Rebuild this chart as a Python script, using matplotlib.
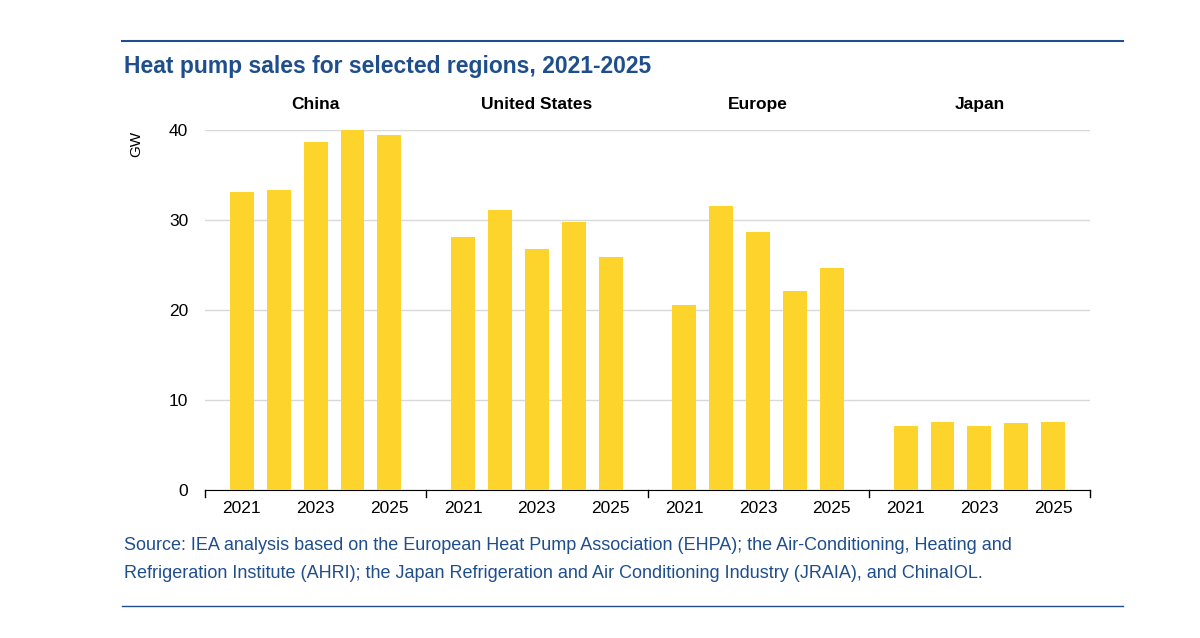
import matplotlib
matplotlib.use("Agg")
import matplotlib.pyplot as plt
from matplotlib.lines import Line2D

plt.rcParams['font.family'] = ['Liberation Sans', 'DejaVu Sans']

regions = ["China", "United States", "Europe", "Japan"]
years = [2021, 2022, 2023, 2024, 2025]
china = [33.1, 33.3, 38.7, 40.0, 39.4]
us = [28.1, 31.1, 26.8, 29.8, 25.9]
europe = [20.6, 31.6, 28.7, 22.1, 24.7]
japan = [7.1, 7.6, 7.1, 7.5, 7.6]
series = [china, us, europe, japan]
year_labels = ["2021", "", "2023", "", "2025"]

fig = plt.figure(figsize=(12, 6.38), dpi=100)
ax = fig.add_axes([205/1200, 1-490/638, 885/1200, 360/638])

xs, hs, labs = [], [], []
for g, vals in enumerate(series):
    for i, v in enumerate(vals):
        xs.append(g*6 + i + 1)
        hs.append(v)
        labs.append(year_labels[i])
ax.bar(xs, hs, width=0.65, color="#FDD42C", zorder=3)
ax.set_xlim(0, 24)
ax.set_ylim(0, 40)
ax.set_yticks([0, 10, 20, 30, 40])
ax.yaxis.grid(True, color="#d9d9d9", lw=1, zorder=0)
ax.set_xticks(xs)
ax.set_xticklabels(labs, fontsize=12.5)
ax.tick_params(axis='x', length=0, pad=8)
ax.tick_params(axis='y', length=0, labelsize=12.5, pad=12)
for s in ["top", "right", "left"]:
    ax.spines[s].set_visible(False)
ax.spines["bottom"].set_color("black")
for b in [0, 6, 12, 18, 24]:
    ax.plot([b, b], [0, -0.02], transform=ax.get_xaxis_transform(), color="black", lw=1, clip_on=False)
for g, r in enumerate(regions):
    ax.text(g*6 + 3, 42, r, ha="center", va="bottom", fontsize=12.5, fontweight="bold")
ax.set_ylabel("GW", fontsize=11)
ax.yaxis.set_label_coords(-0.07, 0.96)

blue = "#1f4e8c"
fig.add_artist(Line2D([122/1200, 1123/1200], [1-41/638]*2, color=blue, lw=1.5))
fig.add_artist(Line2D([122/1200, 1123/1200], [1-606/638]*2, color=blue, lw=1))
fig.text(124/1200, 1-66/638, "Heat pump sales for selected regions, 2021-2025", color=blue,
         fontsize=16.5, fontweight="bold", va="center")
fig.text(124/1200, 1-546/638, "Source: IEA analysis based on the European Heat Pump Association (EHPA); the Air-Conditioning, Heating and",
         color=blue, fontsize=13, va="center")
fig.text(124/1200, 1-574/638, "Refrigeration Institute (AHRI); the Japan Refrigeration and Air Conditioning Industry (JRAIA), and ChinaIOL.",
         color=blue, fontsize=13, va="center")
fig.savefig("out.png", dpi=100)
